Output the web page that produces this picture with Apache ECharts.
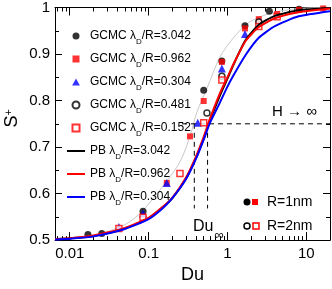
<!DOCTYPE html>
<html>
<head>
<meta charset="utf-8">
<script src="https://cdn.jsdelivr.net/npm/echarts@6/dist/echarts.min.js"></script>
<style>html,body{margin:0;padding:0;background:#fff}#c{width:332px;height:289px}</style>
</head>
<body>
<div id="c"></div>
<script>
// ---- data ----
const gcmc3042Du = [0.017, 0.0255, 0.085, 0.5, 0.85, 1.67, 3.4, 8.1];
const gcmc3042S  = [0.512, 0.514, 0.562, 0.822, 0.885, 0.961, 0.992, 0.996];
const gcmc0962Du = [0.17, 0.335, 0.5, 0.85, 1.67, 2.5, 4.27, 8.1, 16.4];
const gcmc0962S  = [0.623, 0.723, 0.799, 0.883, 0.955, 0.975, 0.986, 0.995, 0.998];
const gcmc0304Du = [0.042, 0.085, 0.17, 0.42, 0.85, 1.67];
const gcmc0304S  = [0.528, 0.557, 0.623, 0.752, 0.869, 0.943];
const gcmc0481Du = [0.55, 0.85, 2.5];
const gcmc0481S  = [0.773, 0.852, 0.969];
const gcmc0152Du = [0.042, 0.085, 0.25, 0.5, 0.85, 2.5, 4.27];
const gcmc0152S  = [0.525, 0.549, 0.643, 0.752, 0.844, 0.959, 0.980];

const pbDu    = [0.0065, 0.01, 0.02, 0.05, 0.1, 0.15, 0.2, 0.3, 0.4, 0.5, 0.6, 0.8, 1.0, 1.2, 1.7, 2.5, 4, 8, 20];
const pb3042S = [0.502, 0.504, 0.509, 0.525, 0.547, 0.570, 0.590, 0.633, 0.677, 0.718, 0.757, 0.810, 0.847, 0.878, 0.930, 0.963, 0.982, 0.994, 0.999];
const pb0962S = [0.502, 0.504, 0.510, 0.526, 0.548, 0.571, 0.591, 0.635, 0.680, 0.722, 0.761, 0.815, 0.850, 0.879, 0.928, 0.958, 0.977, 0.990, 0.998];
const pb0304S = [0.501, 0.503, 0.508, 0.524, 0.545, 0.568, 0.590, 0.632, 0.675, 0.716, 0.752, 0.795, 0.830, 0.855, 0.898, 0.935, 0.960, 0.981, 0.992];

const grayDu = [0.0065, 0.01, 0.02, 0.05, 0.085, 0.17, 0.25, 0.335, 0.41, 0.55, 0.8, 1.18, 1.77, 2.6, 4, 8, 20];
const grayS  = [0.502, 0.504, 0.510, 0.533, 0.564, 0.627, 0.668, 0.723, 0.775, 0.826, 0.893, 0.934, 0.965, 0.980, 0.990, 0.998, 1.0];

const hDashDu = [0.265, 20];   const hDashS = [0.75, 0.75];
const v1DashDu = [0.38, 0.38]; const v1DashS = [0.75, 0.568];
const v2DashDu = [0.56, 0.56]; const v2DashS = [0.75, 0.568];

const xMajorTicks = [0.01, 0.1, 1, 10];
const xMinorTicks = [0.007,0.008,0.009,0.02,0.03,0.04,0.05,0.06,0.07,0.08,0.09,0.2,0.3,0.4,0.5,0.6,0.7,0.8,0.9,2,3,4,5,6,7,8,9,20];
const xTickLabels = ['0.01', '0.1', '1', '10'];

const names = ['GCMC λD/R=3.042','GCMC λD/R=0.962','GCMC λD/R=0.304','GCMC λD/R=0.481','GCMC λD/R=0.152',
               'PB λD/R=3.042','PB λD/R=0.962','PB λD/R=0.304'];

const zip = (a, b) => a.map((v, i) => [v, b[i]]);
const FONT = 'Liberation Sans, Arial, Helvetica, sans-serif';

const SQUARE = 'path://M0,0L10,0L10,10L0,10Z';
const TRI = 'path://M5,0L10,9L0,9Z';
const LINEICON = 'path://M0,0L36,0L36,4L0,4Z';

const xMin = 0.0065, xMax = 20;
function xAx(pos, ticks, len, labels, showLine) {
  return {
    type: 'log', logBase: 10, position: pos, min: xMin, max: xMax,
    axisLine: { show: showLine, lineStyle: { color: '#000', width: 1 } },
    axisTick: { show: true, inside: true, length: len, customValues: ticks, lineStyle: { color: '#000', width: 1 } },
    axisLabel: labels ? {
      show: true, customValues: xMajorTicks, margin: 6, fontSize: 15, color: '#000', fontFamily: FONT,
      formatter: v => { const i = xMajorTicks.findIndex(t => Math.abs(t - v) / t < 1e-6); return i >= 0 ? xTickLabels[i] : ''; }
    } : { show: false },
    splitLine: { show: false }, minorTick: { show: false }, minorSplitLine: { show: false }
  };
}

const option = {
  animation: false,
  grid: { left: 55, right: 2, top: 5, bottom: 40, containLabel: false },
  xAxis: [
    Object.assign(xAx('bottom', xMajorTicks, 8, true, true), { name: 'Du', nameLocation: 'middle', nameGap: 21,
      nameTextStyle: { fontSize: 18, color: '#000', fontFamily: FONT } }),
    xAx('bottom', xMinorTicks, 4, false, false),
    xAx('top', xMajorTicks, 8, false, true),
    xAx('top', xMinorTicks, 4, false, false)
  ],
  yAxis: [
    { type: 'value', position: 'left', min: 0.5, max: 1, interval: 0.1,
      axisLine: { show: true, lineStyle: { color: '#000', width: 1 } },
      axisTick: { show: true, inside: true, length: 7, lineStyle: { color: '#000' } },
      minorTick: { show: true, splitNumber: 2, length: 4, lineStyle: { color: '#000' } },
      axisLabel: { margin: 5, fontSize: 15, color: '#000', fontFamily: FONT, formatter: v => (v === 1 ? '1' : v.toFixed(1)) },
      splitLine: { show: false } },
    { type: 'value', position: 'right', min: 0.5, max: 1, interval: 0.1,
      axisLine: { show: true, lineStyle: { color: '#000', width: 1 } },
      axisTick: { show: true, inside: true, length: 7, lineStyle: { color: '#000' } },
      minorTick: { show: true, splitNumber: 2, length: 4, lineStyle: { color: '#000' } },
      axisLabel: { show: false }, splitLine: { show: false } }
  ],
  legend: {
    data: [
      { name: names[0], icon: 'circle' },
      { name: names[1], icon: SQUARE },
      { name: names[2], icon: TRI },
      { name: names[3], icon: 'circle' },
      { name: names[4], icon: SQUARE },
      { name: names[5], icon: LINEICON },
      { name: names[6], icon: LINEICON },
      { name: names[7], icon: LINEICON }
    ],
    orient: 'vertical', left: 62, top: 24, itemWidth: 18, itemHeight: 7, itemGap: 6,
    selectedMode: false, symbolKeepAspect: true,
    textStyle: { fontSize: 12, color: '#000', fontFamily: FONT, lineHeight: 14,
      rich: { sub: { fontSize: 8, fontFamily: FONT, color: '#000', verticalAlign: 'bottom', lineHeight: 14, padding: [0, 0, -3, 0] } } },
    formatter: n => n.replace('λD', 'λ{sub|D}')
  },
  series: [
    { type: 'line', data: zip(grayDu, grayS), symbol: 'none', smooth: 0.3, lineStyle: { color: '#c8c8c8', width: 1 }, z: 1, silent: true },
    { name: names[0], type: 'scatter', data: zip(gcmc3042Du, gcmc3042S), symbol: 'circle', symbolSize: 7, itemStyle: { color: '#000' }, z: 3 },
    { name: names[1], type: 'scatter', data: zip(gcmc0962Du, gcmc0962S), symbol: 'rect', symbolSize: 6, itemStyle: { color: '#ff0000' }, z: 3 },
    { name: names[2], type: 'scatter', data: zip(gcmc0304Du, gcmc0304S), symbol: 'triangle', symbolSize: 8, itemStyle: { color: '#0000ff' }, z: 3 },
    { name: names[3], type: 'scatter', data: zip(gcmc0481Du, gcmc0481S), symbol: 'circle', symbolSize: 6, itemStyle: { color: '#fff', borderColor: '#000', borderWidth: 1.5 }, z: 3 },
    { name: names[4], type: 'scatter', data: zip(gcmc0152Du, gcmc0152S), symbol: 'rect', symbolSize: 6, itemStyle: { color: '#fff', borderColor: '#ff0000', borderWidth: 1.5 }, z: 3 },
    { name: names[5], type: 'line', data: zip(pbDu, pb3042S), symbol: 'none', smooth: 0.2, lineStyle: { color: '#000', width: 2 }, itemStyle: { color: '#000' }, z: 4 },
    { name: names[6], type: 'line', data: zip(pbDu, pb0962S), symbol: 'none', smooth: 0.2, lineStyle: { color: '#ff0000', width: 2 }, itemStyle: { color: '#ff0000' }, z: 4 },
    { name: names[7], type: 'line', data: zip(pbDu, pb0304S), symbol: 'none', smooth: 0.2, lineStyle: { color: '#0000ff', width: 2 }, itemStyle: { color: '#0000ff' }, z: 4 },
    { type: 'line', data: zip(hDashDu, hDashS), symbol: 'none', lineStyle: { color: '#000', width: 1, type: [5, 4] }, z: 2, silent: true },
    { type: 'line', data: zip(v1DashDu, v1DashS), symbol: 'none', lineStyle: { color: '#000', width: 1, type: [5, 4] }, z: 2, silent: true },
    { type: 'line', data: zip(v2DashDu, v2DashS), symbol: 'none', lineStyle: { color: '#000', width: 1, type: [5, 4] }, z: 2, silent: true }
  ],
  graphic: [
    { type: 'text', left: 3, top: 109, rotation: Math.PI / 2, style: { text: '{s|S}{p|+}', fill: '#000',
      rich: { s: { fontSize: 18, fontFamily: FONT }, p: { fontSize: 11, fontFamily: FONT, verticalAlign: 'top' } } } },
    { type: 'text', left: 272, top: 104, style: { text: 'H → ∞', fontSize: 15, fontFamily: FONT, fill: '#000' } },
    { type: 'text', left: 193, top: 219, style: { text: '{d|Du}{i|∞}', fill: '#000',
      rich: { d: { fontSize: 16, fontFamily: FONT, lineHeight: 18 }, i: { fontSize: 13, fontFamily: FONT, verticalAlign: 'bottom', padding: [0, 0, -6, 1] } } } },
    { type: 'circle', shape: { cx: 247, cy: 202, r: 3.5 }, style: { fill: '#000' } },
    { type: 'rect', shape: { x: 252, y: 199, width: 6, height: 6 }, style: { fill: '#ff0000' } },
    { type: 'text', left: 267, top: 195, style: { text: 'R=1nm', fontSize: 14, fontFamily: FONT, fill: '#000' } },
    { type: 'circle', shape: { cx: 247, cy: 226, r: 3 }, style: { fill: '#fff', stroke: '#000', lineWidth: 1.5 } },
    { type: 'rect', shape: { x: 253, y: 223, width: 6, height: 6 }, style: { fill: '#fff', stroke: '#ff0000', lineWidth: 1.5 } },
    { type: 'text', left: 267, top: 219, style: { text: 'R=2nm', fontSize: 14, fontFamily: FONT, fill: '#000' } }
  ]
};
const chart = echarts.init(document.getElementById('c'), null, { renderer: 'canvas' });
chart.setOption(option);
</script>
</body>
</html>
